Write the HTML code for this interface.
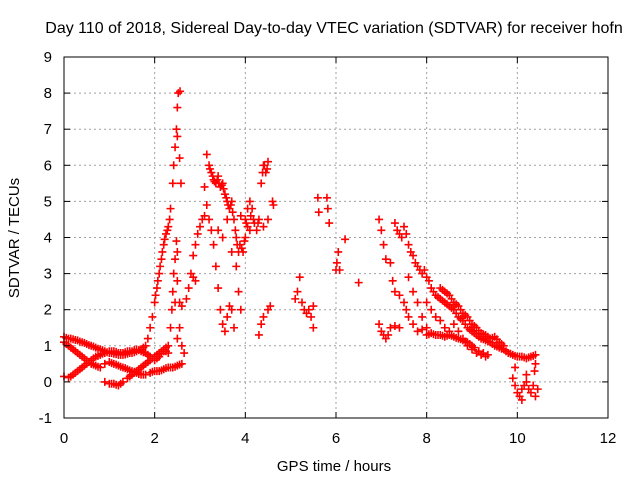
<!DOCTYPE html>
<html><head><meta charset="utf-8"><style>
body{margin:0;background:#fff;}
svg{display:block;font-family:"Liberation Sans",sans-serif;}
</style></head><body>
<svg id="chart" width="640" height="480" xmlns="http://www.w3.org/2000/svg">
<rect width="640" height="480" fill="#fff"/>
<text x="334" y="33" font-size="16" text-anchor="middle" fill="#000">Day 110 of 2018, Sidereal Day-to-day VTEC variation (SDTVAR) for receiver hofn</text>
<g id="grid"></g>
<g id="marks"></g>
<rect x="64" y="57" width="544" height="361" fill="none" stroke="#000" stroke-width="1"/>
<g id="axes"></g>
<text x="334" y="471" font-size="15" text-anchor="middle">GPS time / hours</text>
<text transform="translate(19,238) rotate(-90)" font-size="15" text-anchor="middle">SDTVAR / TECUs</text>
</svg>
<script>
const xTicks=[0,2,4,6,8,10,12];
const yTicks=[-1,0,1,2,3,4,5,6,7,8,9];
const hours=[0,0.1,0.2,0.3,0.4,0.5,0.6,0.7,0.8,0.9,1.0,1.1,1.2,1.3,1.4,1.5,1.6,1.7,1.8,1.85,1.9,1.95,2.0,2.05,2.1,2.15,2.2,2.25,2.3,2.35,2.4,2.42,2.45,2.48,2.5,2.52,2.56,2.5,2.55,2.58,
0,0.1,0.2,0.3,0.4,0.5,0.6,0.7,0.8,0.9,1.0,1.1,1.2,1.3,1.4,1.5,1.6,1.7,1.8,1.9,2.0,2.1,2.2,2.3,2.4,2.5,2.6,2.65,2.6,
0,0.1,0.2,0.3,0.4,0.5,0.6,0.7,0.8,0.9,1.0,1.1,1.2,1.3,1.4,1.5,1.6,1.7,1.8,1.9,2.0,2.1,2.2,2.3,
0.9,1.0,1.1,1.2,1.3,1.4,1.5,1.6,1.7,1.8,1.9,2.0,2.1,2.2,2.3,
2.35,2.38,2.4,2.42,2.45,2.5,2.48,2.5,2.45,2.55,2.5,
2.55,2.6,2.7,2.75,2.8,2.85,2.9,2.95,3.0,3.05,2.85,2.9,
3.1,3.15,3.2,3.25,3.3,3.35,3.4,3.45,3.5,3.55,3.6,3.65,3.7,3.75,3.8,3.85,3.1,3.15,3.2,3.25,3.3,3.35,3.4,3.45,3.5,3.55,3.6,3.65,3.7,3.75,3.4,3.5,3.6,3.7,3.8,3.85,3.9,3.95,4.0,4.05,
3.9,4.0,4.05,4.1,4.15,4.2,4.25,4.3,4.35,4.4,4.45,4.5,4.4,4.5,4.1,4.3,4.35,4.4,4.5,4.55,4.6,4.62,
5.1,5.15,5.2,5.25,5.3,5.35,5.4,5.45,5.5,5.5,5.6,5.62,5.8,5.82,5.85,6.0,6.02,6.05,6.08,6.2,6.5,
6.95,7.0,7.05,7.1,7.2,7.25,7.3,7.4,7.5,7.55,7.6,7.7,7.8,7.9,8.0,6.95,7.0,7.05,7.1,7.15,7.2,7.3,7.4,
7.3,7.35,7.4,7.45,7.5,7.55,7.6,7.65,7.7,7.75,7.8,7.85,7.9,7.95,8.0,8.05,8.1,8.15,8.2,8.3,8.4,8.5,8.6,8.7,8.8,8.9,9.0,9.1,9.2,9.3,9.4,9.5,9.6,9.7,9.8,9.9,10.0,10.1,10.2,10.3,10.4,
7.6,7.7,7.8,7.9,8.0,8.1,8.2,8.3,8.4,8.5,8.6,8.7,8.8,8.9,9.0,8.0,8.1,8.2,8.3,8.4,8.5,8.6,8.7,8.8,8.9,9.0,9.1,9.2,9.3,8.3,8.4,8.5,8.6,8.7,8.8,8.9,9.0,9.1,9.2,9.3,9.4,9.5,9.6,9.7,
9.9,9.95,10.0,10.05,10.1,10.15,10.2,10.25,10.3,10.35,10.4,10.38,10.4,10.2,9.95,10.1,10.45,
0.05,0.15,0.25,0.35,0.45,0.55,0.65,0.75,0.85,0.95,1.05,1.15,1.25,1.35,1.45,1.55,1.65,1.75,2.02,2.07,2.12,2.17,2.22,2.28,2.33,
0.05,0.15,0.25,0.35,0.45,0.55,0.65,0.75,1.05,1.15,1.25,1.35,1.45,1.55,1.65,1.75,1.95,2.05,2.15,2.25,2.35,2.45,2.55,
0.15,0.25,0.35,0.45,0.55,0.65,0.75,0.85,0.95,1.05,1.15,1.25,1.35,1.45,1.55,1.65,1.75,1.85,1.95,2.05,2.15,2.25,
1.45,1.55,1.65,1.75,1.85,1.95,2.05,2.15,2.25,1.05,1.15,1.25,
8.25,8.35,8.45,8.55,8.65,8.75,8.85,8.95,9.05,9.15,9.25,9.35,9.45,9.55,9.65,9.75,9.85,9.95,10.05,10.15,10.25,10.35,
8.05,8.15,8.25,8.35,8.45,8.55,8.65,8.75,8.85,8.95,9.05,9.15,9.25,9.35,
8.35,8.45,8.55,8.65,8.75,8.85,8.95,9.05,9.15,9.25,9.35,9.45,9.55,9.65,
3.22,3.28,3.32,3.38,3.42,3.48,3.52,3.58,3.62,3.68,3.72,3.78,3.82,3.88,3.92,3.98,4.02,4.12,4.18,4.28,4.38,4.42,4.48];
const sdtvar=[1.25,1.2,1.18,1.15,1.1,1.05,1.0,0.95,0.9,0.85,0.8,0.78,0.75,0.75,0.78,0.8,0.85,0.9,1.0,1.2,1.5,1.8,2.2,2.6,3.0,3.4,3.8,4.1,4.3,4.8,5.5,6.0,6.5,7.0,7.6,8.0,8.05,6.8,6.2,5.5,
1.1,1.0,0.9,0.8,0.7,0.6,0.5,0.45,0.4,0.5,0.55,0.5,0.45,0.4,0.35,0.3,0.25,0.2,0.2,0.25,0.3,0.3,0.35,0.4,0.4,0.45,0.5,0.8,1.0,
0.15,0.12,0.2,0.3,0.4,0.5,0.6,0.7,0.75,0.8,0.85,0.85,0.8,0.8,0.85,0.85,0.9,0.85,0.8,0.7,0.6,0.7,0.85,0.8,
0.0,-0.05,-0.05,-0.1,0.0,0.1,0.2,0.3,0.4,0.5,0.6,0.7,0.8,0.9,1.0,
1.5,2.0,2.5,3.0,3.4,3.6,3.9,2.8,2.2,1.5,1.2,
2.2,2.1,2.3,2.6,3.0,3.5,3.8,4.1,4.3,4.5,2.9,2.8,
5.4,6.3,6.0,5.8,5.6,5.5,5.7,5.4,5.5,5.2,5.0,4.8,5.0,4.5,4.0,3.6,4.6,4.9,4.5,4.2,3.8,3.2,2.6,2.0,1.6,1.4,1.8,2.1,2.0,1.5,4.2,4.0,4.5,3.6,3.2,2.5,2.0,3.6,4.0,4.3,
4.6,4.5,4.8,5.0,4.8,4.4,4.2,4.5,5.5,6.0,5.8,6.1,4.3,4.5,4.2,1.3,1.6,1.8,2.0,2.1,5.0,4.9,
2.3,2.5,2.9,2.2,2.0,1.9,2.0,1.8,1.5,2.1,5.1,4.7,5.1,4.8,4.4,3.1,3.3,3.6,3.1,3.95,2.75,
4.5,4.2,3.8,3.4,3.3,2.8,2.5,2.4,2.2,2.0,1.8,1.6,1.4,1.45,1.5,1.6,1.4,1.3,1.2,1.3,1.5,1.55,1.5,
4.4,4.2,4.1,4.0,4.3,4.1,3.8,3.6,3.5,3.3,3.2,3.1,3.0,3.1,2.9,2.8,2.6,2.5,2.4,2.3,2.2,2.1,2.0,1.8,1.7,1.5,1.4,1.3,1.2,1.15,1.1,1.0,0.95,0.9,0.8,0.75,0.7,0.7,0.65,0.7,0.75,
2.9,2.5,2.2,1.8,1.3,1.35,1.3,1.3,1.25,1.3,1.25,1.2,1.15,1.1,1.0,2.2,2.0,1.8,1.7,1.5,1.4,1.6,1.4,1.2,1.0,0.9,0.8,0.75,0.7,2.6,2.5,2.4,2.2,2.1,1.9,1.8,1.6,1.5,1.35,1.3,1.2,1.25,1.1,1.0,
0.1,-0.1,-0.3,-0.4,-0.2,-0.1,0.0,-0.2,-0.3,-0.1,-0.4,0.3,0.5,0.2,0.4,-0.5,-0.2,
1.22,1.2,1.16,1.12,1.08,1.02,0.98,0.92,0.88,0.82,0.8,0.77,0.75,0.76,0.8,0.82,0.88,0.95,2.4,2.8,3.2,3.6,3.95,4.2,4.5,
1.05,0.95,0.85,0.75,0.65,0.55,0.48,0.42,0.52,0.48,0.42,0.38,0.32,0.28,0.22,0.2,0.28,0.3,0.32,0.38,0.4,0.42,0.48,
0.15,0.25,0.35,0.45,0.55,0.65,0.72,0.78,0.82,0.85,0.83,0.8,0.82,0.85,0.88,0.88,0.82,0.75,0.65,0.65,0.78,0.85,
0.15,0.25,0.35,0.45,0.55,0.65,0.75,0.85,0.95,-0.05,-0.08,-0.05,
2.35,2.25,2.15,2.05,1.9,1.75,1.6,1.45,1.35,1.25,1.18,1.12,1.05,0.98,0.92,0.85,0.78,0.72,0.7,0.68,0.68,0.72,
1.32,1.32,1.3,1.28,1.28,1.28,1.22,1.18,1.12,1.05,0.95,0.85,0.8,0.75,
2.55,2.45,2.3,2.15,2.0,1.85,1.7,1.55,1.42,1.32,1.25,1.22,1.18,1.05,
5.9,5.7,5.55,5.6,5.5,5.45,5.35,5.1,4.9,4.9,4.7,4.2,3.8,3.8,3.7,3.9,4.4,4.6,4.5,4.4,5.8,6.0,5.9];
const NS="http://www.w3.org/2000/svg";
const L=64,R=608,T=57,B=418;
function sx(v){return L+(v-0)/(12-0)*(R-L);}
function sy(v){return B-(v+1)/(9+1)*(B-T);}
const grid=document.getElementById('grid'),axes=document.getElementById('axes'),marks=document.getElementById('marks');
function mk(tag,attrs,parent){const e=document.createElementNS(NS,tag);for(const k in attrs)e.setAttribute(k,attrs[k]);parent.appendChild(e);return e;}
xTicks.forEach(t=>{const x=sx(t);
 if(t>0&&t<12){const g=mk('line',{x1:x,x2:x,y1:T,y2:B,stroke:'#a0a0a0','stroke-dasharray':'2,3'},grid);
 }
 const a=mk('line',{x1:x,x2:x,y1:B,y2:B-6,stroke:'#000'},axes);
 const b=mk('line',{x1:x,x2:x,y1:T,y2:T+6,stroke:'#000'},axes);
 const tx=mk('text',{x:x,y:B+25,'font-size':15,'text-anchor':'middle'},axes);tx.textContent=t;
 });
yTicks.forEach(t=>{const y=sy(t);
 if(t>-1&&t<9){const g=mk('line',{x1:L,x2:R,y1:y,y2:y,stroke:'#a0a0a0','stroke-dasharray':'2,3'},grid);
 }
 const a=mk('line',{x1:L,x2:L+6,y1:y,y2:y,stroke:'#000'},axes);
 const b=mk('line',{x1:R,x2:R-6,y1:y,y2:y,stroke:'#000'},axes);
 const tx=mk('text',{x:L-12,y:y+5,'font-size':15,'text-anchor':'end'},axes);tx.textContent=t;
 });
let d='';
for(let i=0;i<hours.length;i++){const x=sx(hours[i]),y=sy(sdtvar[i]);d+=`M${x-4},${y}h8M${x},${y-4}v8`;}
const p=mk('path',{d:d,stroke:'#ff0000','stroke-width':1.6,fill:'none'},marks);


</script>
</body></html>
